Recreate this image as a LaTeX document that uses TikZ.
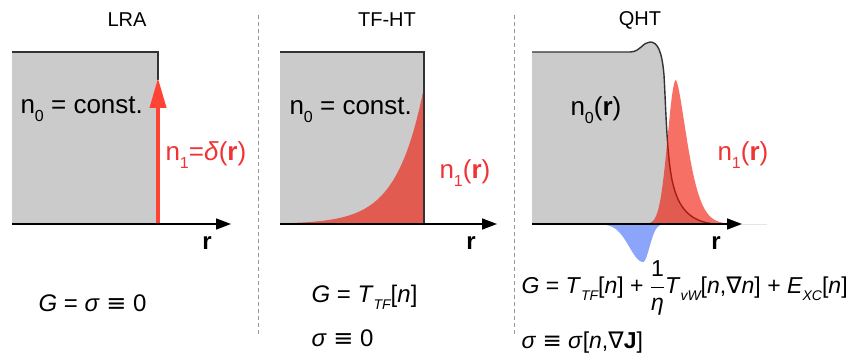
\documentclass[tikz,border=0pt]{standalone}
\usepackage{fontspec}
\setmainfont{Liberation Sans}
\newfontfamily\dvfont{DejaVu Sans}
\usetikzlibrary{arrows.meta}

\definecolor{boxgray}{RGB}{203,203,203}
\definecolor{edgegray}{RGB}{51,51,51}
\definecolor{denred}{RGB}{240,17,0}
\definecolor{deltared}{RGB}{255,68,54}
\definecolor{labelred}{RGB}{240,52,52}
\definecolor{lobeblue}{RGB}{138,165,250}
\definecolor{divgray}{RGB}{150,150,150}

\newcommand{\iv}[1]{\textit{#1}}
\newcommand{\eqv}{{\dvfont ≡}}
\newcommand{\grad}{{\dvfont ∇}}
\newcommand{\isub}[1]{\raisebox{-0.3em}{\fontsize{14}{14}\selectfont\itshape #1}}
\newcommand{\nsub}[1]{\raisebox{-0.3em}{\fontsize{16}{16}\selectfont #1}}
% upper edge of the QHT ground-state density
\newcommand{\qhtedge}{(532,52) -- (630,52) .. controls (640,52) and (643,42) .. (650,42) .. controls (658,42) and (662,52) .. (664,75) .. controls (666,110) and (667,165) .. (674,188) .. controls (680,210) and (692,222) .. (715,224)}

\begin{document}
\begin{tikzpicture}[x=1pt, y=-1pt,
    axis/.style={line width=1.5pt, -{Triangle[length=15pt,width=11pt]}},
    edge/.style={line width=1.6pt, edgegray},
    density/.style={fill=denred, fill opacity=0.6},
    divider/.style={divgray, line width=0.9pt, dash pattern=on 4pt off 3pt},
    title/.style={font=\fontsize{20}{24}\selectfont},
    lbl/.style={font=\fontsize{26}{30}\selectfont, anchor=west},
    eq/.style={font=\fontsize{24}{30}\selectfont, anchor=west},
    rlabel/.style={font=\fontsize{24}{28}\selectfont\bfseries}]
    \useasboundingbox (0,0) rectangle (860,363);

    % dividers
    \draw[divider] (258,15) -- (258,337);
    \draw[divider] (514,15) -- (514,337);

    % LRA
    \fill[boxgray] (12,52) rectangle (158,224);
    \draw[edge] (12,52) -- (158,52) -- (158,80);
    \coordinate (d0) at (158,224);
    \coordinate (d1) at (158,78);
    \draw[deltared, line width=4pt, -{Triangle[length=30pt,width=16pt]}] (d0) -- (d1);
    \coordinate (o1) at (12,224);
    \coordinate (e1) at (231,224);
    \draw[axis] (o1) -- (e1);

    \node[title] (lra) at (127,20) {LRA};
    \node[lbl] (n0a) at (17,109) {n\nsub{0} = const.};
    \node[lbl, labelred] (n1a) at (162,155) {n\nsub{1}=\iv{δ}(\textbf{r})};
    \node[rlabel] (ra) at (207,243) {r};
    \node[eq] (ga) at (35,303) {\iv{G} = \iv{σ} \eqv{} 0};

    % TF-HT
    \fill[boxgray] (280,52) rectangle (424,224);
    \fill[density] (280,224) -- plot[domain=280:424, samples=60] (\x,{224-137*exp((\x-424)/27)}) -- (424,224) -- cycle;
    \draw[edge] (280,52) -- (424,52) -- (424,224);
    \coordinate (o2) at (280,224);
    \coordinate (e2) at (497,224);
    \draw[axis] (o2) -- (e2);

    \node[title] (tfht) at (387,20) {TF-HT};
    \node[lbl] (n0b) at (286,110) {n\nsub{0} = const.};
    \node[lbl, labelred] (n1b) at (436,173) {n\nsub{1}(\textbf{r})};
    \node[rlabel] (rb) at (471,243) {r};
    \node[eq] (gb) at (308,297) {\iv{G} = \iv{T}\isub{TF}[\iv{n}]};
    \node[eq] (sb) at (308,338) {\iv{σ} \eqv{} 0};

    % QHT
    \fill[boxgray] (532,224) -- \qhtedge -- cycle;
    \draw[edge, line width=1.4pt] \qhtedge;
    \fill[density] (650,224) -- plot[domain=650:676, samples=30] (\x,{224-144*exp(-((676-\x)/8.3)*((676-\x)/8.3)/2)})
        -- plot[domain=676:726, samples=50] (\x,{224-144*exp(-0.693*pow((\x-675.99)/13,1.5))}) -- (726,224) -- cycle;
    \fill[lobeblue] (600,224) -- plot[domain=600:643, samples=40] (\x,{224+38*exp(-((643-\x)/13.6)*((643-\x)/13.6)/2)})
        -- plot[domain=643:662, samples=30] (\x,{224+38*exp(-((\x-643)/6.5)*((\x-643)/6.5)/2)}) -- (662,224) -- cycle;
    \coordinate (o3) at (532,224);
    \coordinate (e3) at (742,224);
    \coordinate (f3) at (767,224);
    \draw[black!10, line width=0.8pt] (e3) -- (f3);
    \draw[axis] (o3) -- (e3);

    \node[title] (qht) at (640,20) {QHT};
    \node[lbl] (n0c) at (567,110) {n\nsub{0}(\textbf{r})};
    \node[lbl, labelred] (n1c) at (714,155) {n\nsub{1}(\textbf{r})};
    \node[rlabel] (rc) at (716,243) {r};
    \node[eq, font=\fontsize{23}{28}\selectfont] (gc) at (518,288) {\iv{G} = \iv{T}\isub{TF}[\iv{n}] + $\displaystyle\frac{\mbox{1}}{\mbox{\itshape η}}$\iv{T}\isub{vW}[\iv{n},\grad\iv{n}] + \iv{E}\isub{XC}[\iv{n}]};
    \node[eq, font=\fontsize{23}{28}\selectfont] (sc) at (518,343) {\iv{σ} \eqv{} \iv{σ}[\iv{n},\grad\textbf{J}]};
\end{tikzpicture}
\end{document}
